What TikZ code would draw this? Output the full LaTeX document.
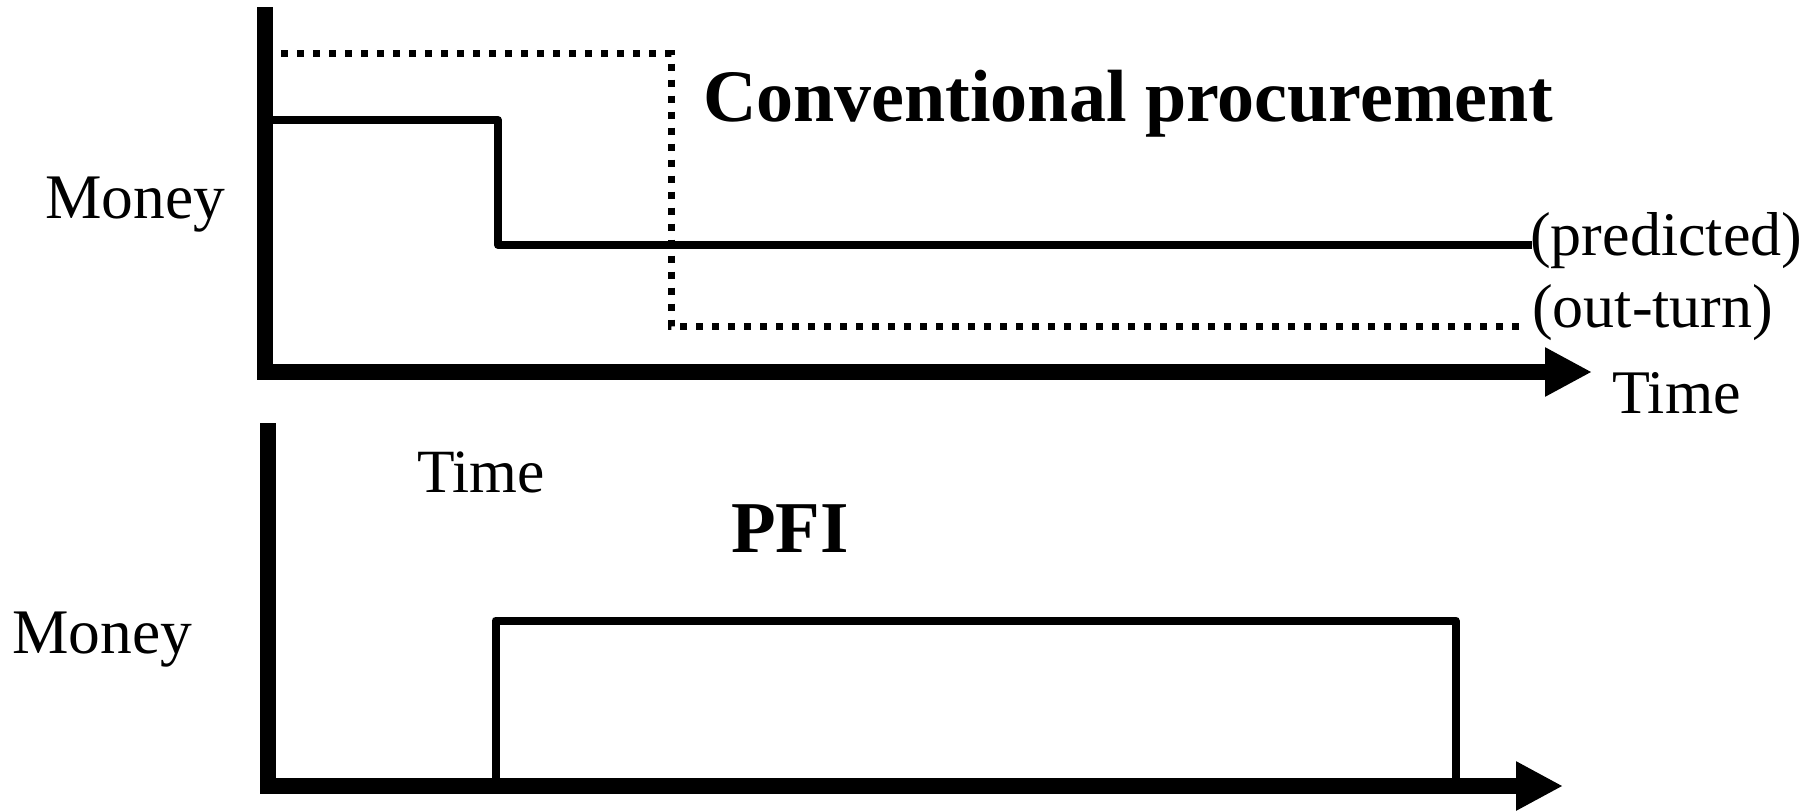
\documentclass[tikz,border=0pt]{standalone}
\usepackage{fontspec}
\setmainfont{Liberation Serif}
\usetikzlibrary{arrows.meta}

\tikzset{
  axis/.style={line width=16pt, line cap=butt, line join=miter,
    -{Triangle[length=47pt, width=46pt]}},
  curve/.style={line width=8pt, line cap=butt, line join=round},
  outturn/.style={line width=7pt, line cap=butt, dash pattern=on 7pt off 9pt},
  label/.style={inner sep=0pt, anchor=base west, font=\fontsize{62}{70}\selectfont},
  moneylabel/.style={label, font=\fontsize{63.5}{72}\selectfont},
  endlabel/.style={inner sep=0pt, anchor=base west, font=\fontsize{62}{70}\selectfont},
  title/.style={inner sep=0pt, anchor=base west, font=\fontsize{74}{84}\selectfont\bfseries}
}

\begin{document}
\begin{tikzpicture}[x=1pt, y=-1pt]
  \useasboundingbox (0,0) rectangle (1820,811);

  % ---- conventional procurement panel ----
  \coordinate (topO) at (265,372);
  \coordinate (topY) at (265,7);
  \coordinate (topX) at (1592,372);
  \draw[axis] (topY) -- (topO) -- (topX);

  % predicted cost profile
  \coordinate (p0) at (273,120);
  \coordinate (p1) at (498,120);
  \coordinate (p2) at (498,245);
  \coordinate (p3) at (1532,245);
  \draw[curve] (p0) -- (p1) -- (p2) -- (p3);

  % out-turn cost profile
  \coordinate (q0) at (281,53.5);
  \coordinate (q1) at (671,53.5);
  \coordinate (q2) at (671,326.5);
  \coordinate (q3) at (1525,326.5);
  \draw[outturn] (q0) -- (q1) -- (q2) -- (q3);

  \node[moneylabel] (money1) at (45,218) {Money};
  \node[label] (time1) at (1612,413) {Time};
  \node[title] (conv) at (703,121) {Conventional procurement};
  \node[endlabel] (pred) at (1530,255) {(predicted)};
  \node[endlabel] (outt) at (1532,327) {(out-turn)};

  % ---- PFI panel ----
  \coordinate (botO) at (268,786);
  \coordinate (botY) at (268,423);
  \coordinate (botX) at (1563,786);
  \draw[axis] (botY) -- (botO) -- (botX);

  % unitary payment profile
  \coordinate (r0) at (495.5,780);
  \coordinate (r1) at (495.5,620.5);
  \coordinate (r2) at (1455.5,620.5);
  \coordinate (r3) at (1455.5,780);
  \draw[curve] (r0) -- (r1) -- (r2) -- (r3);

  \node[moneylabel] (money2) at (12,653) {Money};
  \node[label, font=\fontsize{61.5}{69}\selectfont] (time2) at (417,492) {Time};
  \node[title, font=\fontsize{73}{83}\selectfont\bfseries] (pfi) at (731,552) {PFI};
\end{tikzpicture}
\end{document}
